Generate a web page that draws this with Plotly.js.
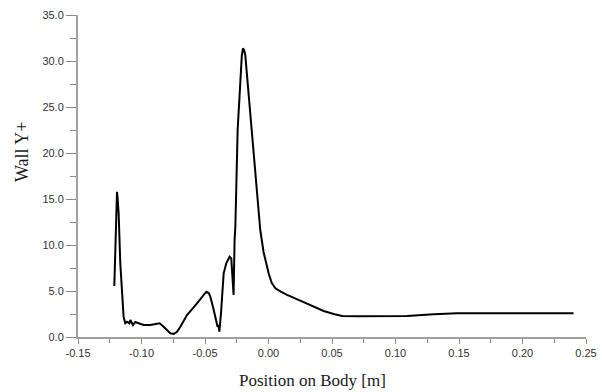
<!DOCTYPE html>
<html>
<head>
<meta charset="utf-8">
<script src="https://cdn.plot.ly/plotly-3.0.1.min.js"></script>
<style>html,body{margin:0;padding:0;background:#fff;}#chart{width:602px;height:392px;}</style>
</head>
<body>
<div id="chart"></div>
<script>
// Position on body [m]
var positionM = [
  -0.1214, -0.1198, -0.1193, -0.1188, -0.1180, -0.1167, -0.1154, -0.1141, -0.1128, -0.1114,
  -0.1096, -0.1088, -0.1067, -0.1049, -0.1023, -0.0983, -0.0931, -0.0891, -0.0857, -0.0826,
  -0.0799, -0.0773, -0.0747, -0.0722, -0.0694, -0.0642, -0.0563, -0.0513, -0.0490, -0.0470,
  -0.0458, -0.0435, -0.0419, -0.0401, -0.0394, -0.0387, -0.0374, -0.0364, -0.0353, -0.0332,
  -0.0306, -0.0293, -0.0285, -0.0275, -0.0267, -0.0261, -0.0243, -0.0222, -0.0210, -0.0201,
  -0.0192, -0.0183, -0.0159, -0.0130, -0.0104, -0.0078, -0.0065, -0.0039, -0.0015, 0.0001,
  0.0025, 0.0054, 0.0100, 0.0146, 0.0250, 0.0355, 0.0434, 0.0513, 0.0579, 0.0700,
  0.0900, 0.1091, 0.1300, 0.1484, 0.2402
];
// Wall Y+
var wallYPlus = [
  5.54, 14.60, 15.79, 15.10, 13.45, 8.01, 4.38, 2.21, 1.49, 1.66,
  1.49, 1.85, 1.30, 1.63, 1.49, 1.30, 1.30, 1.41, 1.49, 1.12,
  0.71, 0.40, 0.33, 0.54, 1.12, 2.39, 3.66, 4.57, 4.92, 4.78,
  4.38, 3.15, 2.21, 1.12, 1.30, 0.58, 2.58, 5.11, 6.92, 8.04,
  8.73, 8.55, 6.74, 4.57, 10.54, 11.99, 22.50, 27.93, 30.60, 31.38,
  31.20, 30.65, 26.85, 22.50, 18.15, 13.45, 11.63, 9.24, 7.80, 6.92,
  5.90, 5.29, 4.90, 4.57, 3.95, 3.29, 2.83, 2.50, 2.28, 2.25,
  2.26, 2.28, 2.47, 2.58, 2.58
];
var xTickVals = [-0.15, -0.10, -0.05, 0.00, 0.05, 0.10, 0.15, 0.20, 0.25];
var xTickText = ["-0.15", "-0.10", "-0.05", "0.00", "0.05", "0.10", "0.15", "0.20", "0.25"];
var yTickVals = [0, 5, 10, 15, 20, 25, 30, 35];
var yTickText = ["0.0", "5.0", "10.0", "15.0", "20.0", "25.0", "30.0", "35.0"];
var xTitle = "Position on Body [m]";
var yTitle = "Wall Y+";

var trace = {
  x: positionM, y: wallYPlus, type: 'scatter', mode: 'lines',
  line: {color: '#000000', width: 2, shape: 'linear'},
  hoverinfo: 'skip'
};

var tickFont = {family: 'Liberation Sans, Arial, sans-serif', size: 11, color: '#333333'};
var axisColor = '#a0a0a0';

var layout = {
  width: 602, height: 392,
  margin: {l: 78, r: 16, t: 15, b: 55, pad: 0},
  paper_bgcolor: '#ffffff', plot_bgcolor: '#ffffff',
  showlegend: false,
  xaxis: {
    range: [-0.15, 0.25], tickvals: xTickVals, ticktext: xTickText,
    showgrid: false, zeroline: false, showline: true, linecolor: axisColor, linewidth: 2,
    ticks: 'outside', ticklen: 5, tickwidth: 1, tickcolor: '#888888',
    minor: {dtick: 0.025, ticks: 'outside', ticklen: 4, tickcolor: '#888888', tickwidth: 1, showgrid: false},
    tickfont: tickFont, fixedrange: true
  },
  yaxis: {
    range: [0, 35], tickvals: yTickVals, ticktext: yTickText,
    showgrid: false, zeroline: false, showline: true, linecolor: axisColor, linewidth: 2,
    ticks: 'outside', ticklen: 10, tickwidth: 1, tickcolor: '#888888',
    minor: {dtick: 2.5, ticks: 'outside', ticklen: 6, tickcolor: '#888888', tickwidth: 1, showgrid: false},
    tickfont: tickFont, fixedrange: true
  },
  annotations: [
    {text: xTitle, xref: 'paper', yref: 'paper', x: (312 - 78) / 508, y: -(380 - 337) / 322,
     xanchor: 'center', yanchor: 'middle', showarrow: false,
     font: {family: 'Liberation Serif, Times New Roman, serif', size: 17, color: '#1a1a1a'}},
    {text: yTitle, xref: 'paper', yref: 'paper', x: (22 - 78) / 508, y: (337 - 152) / 322,
     xanchor: 'center', yanchor: 'middle', showarrow: false, textangle: -90,
     font: {family: 'Liberation Serif, Times New Roman, serif', size: 18, color: '#1a1a1a'}}
  ]
};

Plotly.newPlot('chart', [trace], layout, {staticPlot: true, displayModeBar: false});
</script>
</body>
</html>
